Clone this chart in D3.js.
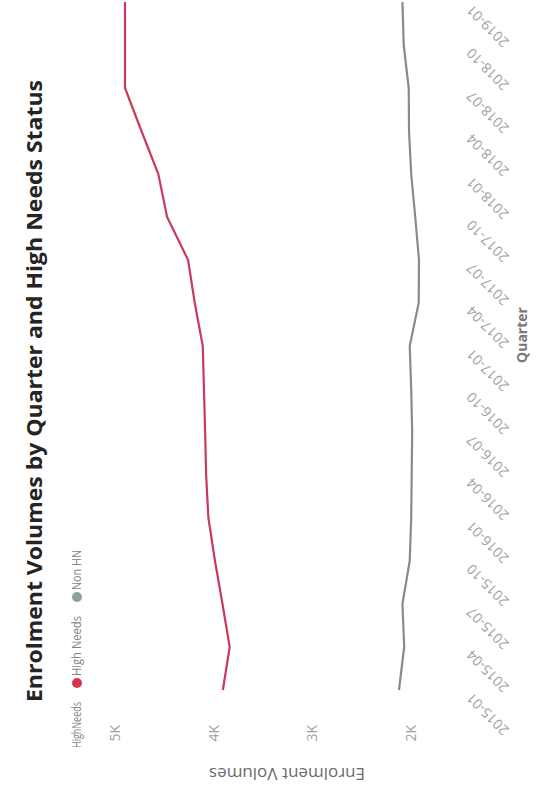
<!DOCTYPE html>
<html>
<head>
<meta charset="utf-8">
<script src="https://cdn.jsdelivr.net/npm/d3@7"></script>
<style>
  body { margin: 0; background: #fff; }
  text { font-family: "Open Sans", "Noto Sans", sans-serif; }
</style>
</head>
<body>
<div id="canvas"></div>
<script>
// chart data
var quarters = ["2015-01","2015-04","2015-07","2015-10","2016-01","2016-04","2016-07","2016-10",
                "2017-01","2017-04","2017-07","2017-10","2018-01","2018-04","2018-07","2018-10","2019-01"];
var highNeeds = [3905,3836,3909,3985,4052,4075,4085,4097,4109,4190,4258,4471,4560,4731,4898,4898,4898];
var nonHN     = [2119,2066,2084,2010,1995,1990,1985,1995,2010,1919,1916,1954,1995,2017,2020,2071,2084];
var seriesNames = ["High Needs","Non HN"];
var seriesColors = ["#c93a5b","#858c89"];
var legendColors = ["#d8354b","#8aa397"];
var yTicks = [2000,3000,4000,5000];

var pw = 545, ph = 810;
// the chart is drawn unrotated (810 wide, 545 high) then turned a quarter left
var W = 810, H = 545;

var svg = d3.select("#canvas")
  .append("svg")
  .attr("width", pw)
  .attr("height", ph);

var chart = svg.append("g")
  .attr("transform", "translate(0," + ph + ") rotate(-90)");

var x = d3.scalePoint().domain(quarters).range([120, 808]);
var y = d3.scaleLinear().domain([1500, 5050]).range([460, 110]);

//title
chart.append("text")
  .attr("x", 108)
  .attr("y", 42)
  .attr("textLength", 622)
  .attr("lengthAdjust", "spacingAndGlyphs")
  .style("font-size", "21px")
  .style("font-weight", "bold")
  .style("fill", "#252423")
  .text("Enrolment Volumes by Quarter and High Needs Status");

//legend
var legend = chart.append("g").attr("transform", "translate(62,81)");
legend.append("text")
  .attr("x", 0).attr("y", 0)
  .attr("textLength", 46)
  .attr("lengthAdjust", "spacingAndGlyphs")
  .style("font-size", "13px")
  .style("fill", "#858381")
  .text("HighNeeds");
var lx = [65, 151], lw = [60, 40];
seriesNames.forEach(function(n, i) {
  legend.append("circle")
    .attr("cx", lx[i]).attr("cy", -4)
    .attr("r", 5)
    .style("fill", legendColors[i]);
  legend.append("text")
    .attr("x", lx[i] + 7).attr("y", 0)
    .attr("textLength", lw[i])
    .attr("lengthAdjust", "spacingAndGlyphs")
    .style("font-size", "13px")
    .style("fill", "#858381")
    .text(n);
});

//y axis
var yAxis = chart.append("g")
  .attr("transform", "translate(95,0)")
  .call(d3.axisLeft(y).tickValues(yTicks).tickSize(0).tickPadding(10)
    .tickFormat(function(d) { return d / 1000 + "K"; }));
yAxis.select(".domain").remove();
yAxis.selectAll("text")
  .style("font-size", "14px")
  .style("fill", "#a19f9d");

chart.append("text")
  .attr("transform", "translate(42,287) rotate(-90)")
  .attr("text-anchor", "middle")
  .style("font-size", "17px")
  .style("fill", "#6b6b6b")
  .text("Enrolment Volumes");

//x axis
var xAxis = chart.append("g")
  .attr("transform", "translate(0,460)")
  .call(d3.axisBottom(x).tickSize(0));
xAxis.select(".domain").remove();
xAxis.selectAll("text")
  .attr("x", 0).attr("y", 0).attr("dy", "0.35em")
  .attr("transform", "translate(-6,9) rotate(-45)")
  .attr("text-anchor", "end")
  .style("font-size", "14px")
  .style("fill", "#a19f9d");

chart.append("text")
  .attr("x", 475)
  .attr("y", 527)
  .attr("text-anchor", "middle")
  .style("font-size", "14px")
  .style("font-weight", "bold")
  .style("fill", "#7a7876")
  .text("Quarter");

//lines
var line = d3.line()
  .x(function(d, i) { return x(quarters[i]); })
  .y(function(d) { return y(d); });

[highNeeds, nonHN].forEach(function(s, i) {
  chart.append("path")
    .attr("d", line(s))
    .style("fill", "none")
    .style("stroke", seriesColors[i])
    .style("stroke-width", "2.2px");
});
</script>
</body>
</html>
